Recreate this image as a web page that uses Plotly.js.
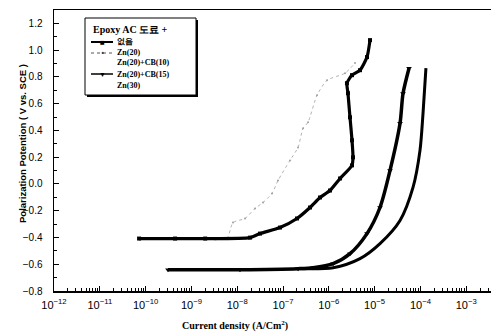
<!DOCTYPE html>
<html>
<head>
<meta charset="utf-8">
<script src="https://cdn.plot.ly/plotly-3.0.1.min.js"></script>
<style>html,body{margin:0;padding:0;background:#fff;}#chart{width:491px;height:334px;}</style>
</head>
<body>
<div id="chart"></div>
<script>
// Curve "없음" (no pigment)
const blankI = [7.2e-11, 4.4e-10, 2.0e-9, 1.91e-8, 3.15e-8, 8.59e-8, 2.02e-7, 3.89e-7, 6.43e-7, 1.06e-6, 1.76e-6, 3.21e-6, 3.37e-6, 3.21e-6, 2.90e-6, 2.62e-6, 2.49e-6, 3.21e-6, 4.80e-6, 6.82e-6, 7.94e-6];
const blankE = [-0.408, -0.408, -0.408, -0.401, -0.371, -0.326, -0.258, -0.176, -0.101, -0.049, 0.041, 0.139, 0.199, 0.326, 0.498, 0.678, 0.753, 0.813, 0.850, 0.948, 1.075];
// Curve Zn(20)
const zn20I = [3.27e-9, 5.98e-9, 8.09e-9, 1.48e-8, 2.45e-8, 3.66e-8, 5.75e-8, 7.78e-8, 1.42e-7, 2.13e-7, 2.74e-7, 3.52e-7, 5.52e-7, 9.14e-7, 2.26e-6, 3.73e-6];
const zn20E = [-0.416, -0.408, -0.288, -0.258, -0.183, -0.139, -0.071, 0.026, 0.176, 0.273, 0.416, 0.461, 0.663, 0.775, 0.828, 0.903];
// Curve Zn(20)+CB(15)
const cb15I = [3.08e-10, 1.15e-8, 2.13e-7, 4.52e-7, 1.24e-6, 2.90e-6, 6.82e-6, 1.31e-5, 2.17e-5, 3.59e-5, 4.17e-5, 5.64e-5];
const cb15E = [-0.641, -0.641, -0.633, -0.626, -0.596, -0.521, -0.371, -0.176, 0.101, 0.453, 0.676, 0.865];
// Curve Zn(30)
const zn30I = [2.13e-7, 1.24e-6, 4.80e-6, 1.31e-5, 3.59e-5, 6.89e-5, 9.79e-5, 1.14e-4, 1.32e-4];
const zn30E = [-0.633, -0.626, -0.558, -0.446, -0.273, -0.026, 0.251, 0.527, 0.865];

const decadeExps = [-12, -11, -10, -9, -8, -7, -6, -5, -4, -3];
const legendTitle = 'Epoxy AC 도료 +';
const legendNames = ['없음', 'Zn(20)', 'Zn(20)+CB(10)', 'Zn(20)+CB(15)', 'Zn(30)'];
const xTitle = 'Current density (A/Cm<sup>2</sup>)';
const yTitle = 'Polarization Potention ( V vs. SCE )';

const traces = [
  {x: zn20I, y: zn20E, mode: 'lines+markers', line: {color: '#b4b4b4', width: 1, dash: 'dot', shape: 'spline', smoothing: 0.6},
   marker: {symbol: 'circle', size: 2, color: '#a0a0a0'}, showlegend: false},
  {x: blankI, y: blankE, mode: 'lines+markers', line: {color: '#000', width: 3.2, shape: 'spline', smoothing: 0.6},
   marker: {symbol: 'square', size: 4, color: '#000'}, showlegend: false},
  {x: cb15I, y: cb15E, mode: 'lines+markers', line: {color: '#000', width: 3.5, shape: 'spline', smoothing: 0.8},
   marker: {symbol: 'triangle-down', size: 5, color: '#000'}, showlegend: false},
  {x: zn30I, y: zn30E, mode: 'lines', line: {color: '#000', width: 3, shape: 'spline', smoothing: 0.8}, showlegend: false}
];

// tick positions: decades (labelled) and 2..9 x each decade (minor) within the axis range
const majorVals = decadeExps.map(e => Math.pow(10, e));
const majorText = decadeExps.map(e => '10<sup>\u2212' + Math.abs(e) + '</sup>');
const minorVals = [];
decadeExps.forEach(e => { for (let k = 2; k <= 9; k++) { const v = k * Math.pow(10, e); if (Math.log10(v) < -2.46) minorVals.push(v); } });

// pixel -> paper helpers for the hand-drawn legend box
const L = 54, R = 0, T = 10, B = 43, W = 491, H = 334;
const pw = W - L - R, ph = H - T - B;
const px = v => (v - L) / pw;
const py = v => (H - B - v) / ph;

const legFont = {family: 'Liberation Serif', size: 8, color: '#000', weight: 'bold'};
const rowsY = [42, 53, 63, 74, 85];
const P = {xref: 'paper', yref: 'paper', showarrow: false};
const annotations = [
  Object.assign({text: legendTitle, x: px(91), y: py(30), xanchor: 'left', yanchor: 'middle',
   font: {family: 'Liberation Serif', size: 10, color: '#000', weight: 'bold'}}, P),
  Object.assign({text: xTitle, x: px(235), y: py(325), xanchor: 'center', yanchor: 'middle',
   font: {family: 'Liberation Serif', size: 10, color: '#000', weight: 'bold'}}, P),
  Object.assign({text: yTitle, x: px(22), y: py(144), xanchor: 'center', yanchor: 'middle', textangle: -90,
   font: {family: 'Liberation Sans', size: 9.5, color: '#000', weight: 'bold'}}, P)
];
legendNames.forEach((n, i) => {
  annotations.push(Object.assign({text: n, x: px(115), y: py(rowsY[i]), xanchor: 'left', yanchor: 'middle', font: legFont}, P));
});
// legend sample glyphs
annotations.push(Object.assign({text: '■', x: px(102), y: py(42), xanchor: 'center', yanchor: 'middle', font: {size: 8, color: '#000'}}, P));
annotations.push(Object.assign({text: '•', x: px(102), y: py(53), xanchor: 'center', yanchor: 'middle', font: {size: 9, color: '#333'}}, P));
annotations.push(Object.assign({text: '▼', x: px(102), y: py(74), xanchor: 'center', yanchor: 'middle', font: {size: 7, color: '#000'}}, P));

const shapes = [
  {type: 'rect', xref: 'paper', yref: 'paper', x0: px(87), x1: px(198), y0: py(97), y1: py(20), line: {width: 0}, fillcolor: '#000'},
  {type: 'rect', xref: 'paper', yref: 'paper', x0: px(85), x1: px(196), y0: py(95), y1: py(18), line: {color: '#000', width: 1}, fillcolor: '#fff'},
  {type: 'line', xref: 'paper', yref: 'paper', x0: px(91), x1: px(113), y0: py(42), y1: py(42), line: {color: '#000', width: 2}},
  {type: 'line', xref: 'paper', yref: 'paper', x0: px(91), x1: px(113), y0: py(53), y1: py(53), line: {color: '#555', width: 1, dash: 'dot'}},
  {type: 'line', xref: 'paper', yref: 'paper', x0: px(91), x1: px(113), y0: py(74), y1: py(74), line: {color: '#000', width: 1.5}}
];

const tickFont = {family: 'Liberation Sans', size: 10, color: '#000'};
const layout = {
  width: W, height: H,
  margin: {l: L, r: R, t: T, b: B},
  paper_bgcolor: '#fff', plot_bgcolor: '#fff',
  showlegend: false,
  xaxis: {type: 'log', range: [-12, -2.459], tickmode: 'array', tickvals: majorVals, ticktext: majorText,
    ticks: 'inside', ticklen: 5, tickcolor: '#000', tickwidth: 1, showline: true, linecolor: '#000', linewidth: 1.5, mirror: true,
    showgrid: false, zeroline: false, tickfont: {family: 'Liberation Sans', size: 11, color: '#000'}, ticklabelstandoff: 3,
    minor: {tickmode: 'array', tickvals: minorVals, ticks: 'inside', ticklen: 3, tickcolor: '#000', showgrid: false}},
  yaxis: {range: [-0.8, 1.3], tick0: -0.8, dtick: 0.2, tickformat: '.1f', ticks: 'inside', ticklen: 5,
    tickcolor: '#000', showline: true, linecolor: '#000', linewidth: 1.5, mirror: false,
    showgrid: false, zeroline: false, tickfont: tickFont, ticklabelstandoff: 8,
    minor: {ticks: 'inside', ticklen: 3, tickcolor: '#000', dtick: 0.1, showgrid: false}},
  annotations: annotations,
  shapes: shapes
};

Plotly.newPlot('chart', traces, layout, {staticPlot: true, displayModeBar: false});
</script>
</body>
</html>
